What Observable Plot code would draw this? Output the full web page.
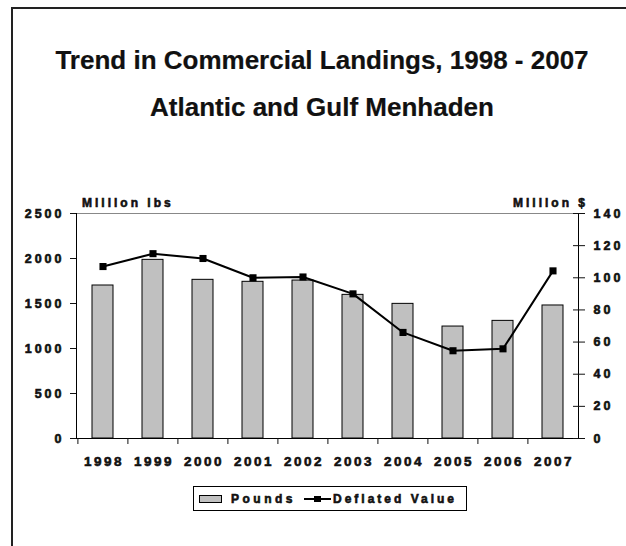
<!DOCTYPE html>
<html><head><meta charset="utf-8">
<script src="https://cdn.jsdelivr.net/npm/d3@7"></script>
<script src="https://cdn.jsdelivr.net/npm/@observablehq/plot@0.6"></script>
<style>
body{margin:0;background:#fff;}
#wrap{position:relative;width:626px;height:546px;overflow:hidden;font-family:"Liberation Sans",Arial,sans-serif;color:#111;}
#frame{position:absolute;left:11px;top:7px;width:700px;height:700px;border-left:2px solid #222;border-top:2px solid #222;}
.title{position:absolute;left:12px;width:620px;text-align:center;font-weight:bold;font-size:26px;line-height:1;-webkit-text-stroke:0.2px #111;}
.alab{position:absolute;font-weight:bold;font-size:12px;letter-spacing:3px;line-height:1;-webkit-text-stroke:0.6px #111;}
#chart{position:absolute;left:0;top:0;}
#chart text{stroke:#111;stroke-width:0.6px;letter-spacing:3px;}
#chart g[aria-label="x-axis tick label"] text{letter-spacing:2.5px;}
#legend{position:absolute;left:193px;top:486px;width:272px;height:23px;border:1px solid #000;display:flex;align-items:center;font-weight:bold;font-size:12px;letter-spacing:3px;-webkit-text-stroke:0.6px #111;}
.sw{width:21px;height:6px;background:#c0c0c0;border:1px solid #000;margin-left:5px;margin-right:9px;}
</style></head>
<body><div id="wrap">
<div id="frame"></div>
<div class="title" style="top:47px">Trend in Commercial Landings, 1998 - 2007</div>
<div class="title" style="top:94px">Atlantic and Gulf Menhaden</div>
<div id="chart"></div>
<div class="alab" style="left:82px;top:197px">Million lbs</div>
<div class="alab" style="right:38px;top:197px">Million $</div>
<div id="legend"><div class="sw"></div><span style="letter-spacing:3.5px">Pounds</span>
<svg width="27" height="10" style="margin-left:8px;margin-right:2px"><line x1="0" y1="5" x2="27" y2="5" stroke="#000" stroke-width="2"/><rect x="10" y="2" width="7" height="6" fill="#000"/></svg><span>Deflated Value</span></div>
</div>
<script>
const years = ["1998","1999","2000","2001","2002","2003","2004","2005","2006","2007"];
const pounds = [1700, 1985, 1763, 1741, 1755, 1596, 1496, 1244, 1307, 1478];
const deflated = [107, 115, 112, 100, 100.5, 90, 66, 54.6, 55.8, 104.3];
const leftTicks = [0, 500, 1000, 1500, 2000, 2500];
const rightTicks = [0, 20, 40, 60, 80, 100, 120, 140];
const leftMax = 2500, rightMax = 140;
const K = leftMax / rightMax;
const data = years.map((y, i) => ({year: y, pounds: pounds[i], value: deflated[i] * K}));

const W = 626, H = 546, mL = 76, mR = 48, mT = 213, mB = 108;
const step = (W - mL - mR) / years.length;

const chart = Plot.plot({
  width: W, height: H,
  marginLeft: mL, marginRight: mR, marginTop: mT, marginBottom: mB,
  style: {fontFamily: '"Liberation Sans", Arial, sans-serif', fontWeight: "bold", fontSize: "12px", background: "transparent", color: "#111", overflow: "visible"},
  x: {type: "band", domain: years, paddingInner: 0.58, paddingOuter: 0.29, axis: null},
  y: {domain: [0, leftMax], axis: null},
  marks: [
    Plot.ruleY([leftMax], {stroke: "#888", strokeWidth: 1}),
    Plot.barY(data, {x: "year", y: "pounds", fill: "#c0c0c0", stroke: "#000", strokeWidth: 1}),
    Plot.frame({anchor: "left", stroke: "#000"}),
    Plot.frame({anchor: "right", stroke: "#000"}),
    Plot.ruleY([0], {stroke: "#000"}),
    Plot.axisY({anchor: "left", ticks: leftTicks, tickSize: 6, tickPadding: 6, tickFormat: d => String(d), label: null, fontSize: 12.5}),
    Plot.axisY({anchor: "right", ticks: rightTicks.map(v => v * K), tickSize: 12, dx: -6, tickFormat: () => "", label: null}),
    Plot.axisY({anchor: "right", ticks: rightTicks.map(v => v * K), tickSize: 0, tickPadding: 15, tickFormat: d => String(Math.round(d / K)), label: null, fontSize: 12.5}),
    Plot.axisX({anchor: "bottom", ticks: years, tickSize: 6, dx: -step / 2, tickFormat: () => "", label: null}),
    Plot.axisX({anchor: "bottom", ticks: years, tickSize: 0, tickPadding: 18, dx: 1, label: null, fontSize: 13.5}),
    Plot.line(data, {x: "year", y: "value", stroke: "#000", strokeWidth: 2}),
    Plot.dot(data, {x: "year", y: "value", symbol: "square", r: 4, fill: "#000", stroke: "none"})
  ]
});
document.getElementById("chart").appendChild(chart);
</script>
</body></html>
